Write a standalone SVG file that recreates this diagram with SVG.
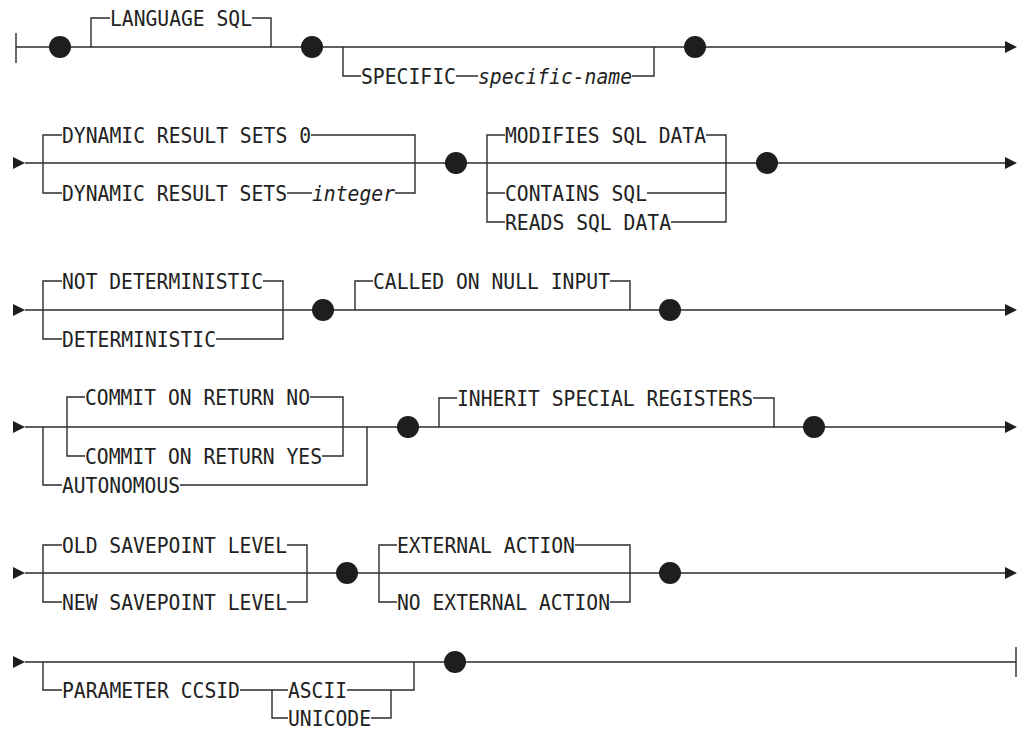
<svg xmlns="http://www.w3.org/2000/svg" width="1019" height="729" viewBox="0 0 1019 729">
<style>
.ln{stroke:#2b2b2b;stroke-width:1.4;fill:none}
.t{font-family:"DejaVu Sans Mono","Liberation Mono",monospace;font-size:22px;fill:#222}
.i{font-style:italic}
.dot{fill:#1e1e1e}
.arr{fill:#1e1e1e}
</style>
<rect width="1019" height="729" fill="#fff"/>
<g id="connectors">
<!-- row 1 -->
<path class="ln" d="M16 33V63M16 47H1006"/>
<polygon class="arr" points="1005,41 1017,47 1005,53"/>
<path class="ln" d="M91 47V18H110M252 18H271V47"/>
<path class="ln" d="M343 47V76H361M456 76H478M632 76H654V47"/>
<!-- row 2 -->
<polygon class="arr" points="13,157 25,163 13,169"/>
<path class="ln" d="M25 163H1006"/>
<polygon class="arr" points="1005,157 1017,163 1005,169"/>
<path class="ln" d="M62 135H43V193H62M311 135H415V193H395M287 193H312"/>
<path class="ln" d="M505 135H487V222H505M487 193H505M706 135H726V222H671M647 193H726"/>
<!-- row 3 -->
<polygon class="arr" points="13,304 25,310 13,316"/>
<path class="ln" d="M25 310H1006"/>
<polygon class="arr" points="1005,304 1017,310 1005,316"/>
<path class="ln" d="M62 281H43V339H62M263 281H283V339H216"/>
<path class="ln" d="M355 310V281H373M610 281H630V310"/>
<!-- row 4 -->
<polygon class="arr" points="13,421 25,427 13,433"/>
<path class="ln" d="M25 427H1006"/>
<polygon class="arr" points="1005,421 1017,427 1005,433"/>
<path class="ln" d="M43 427V485H62M180 485H367V427"/>
<path class="ln" d="M85 397H67V456H85M310 397H343V456H322"/>
<path class="ln" d="M439 427V398H457M753 398H774V427"/>
<!-- row 5 -->
<polygon class="arr" points="13,567 25,573 13,579"/>
<path class="ln" d="M25 573H1006"/>
<polygon class="arr" points="1005,567 1017,573 1005,579"/>
<path class="ln" d="M62 545H43V602H62M287 545H307V602H287"/>
<path class="ln" d="M397 545H379V602H397M575 545H630V602H610"/>
<!-- row 6 -->
<polygon class="arr" points="13,656 25,662 13,668"/>
<path class="ln" d="M25 662H1016M1016 647V677"/>
<path class="ln" d="M43 662V690H62M240 690H288M272 690V718H288M347 690H414V662M371 718H391V690"/>
</g>
<g id="dots">
<circle class="dot" cx="60" cy="47" r="11"/>
<circle class="dot" cx="312" cy="47" r="11"/>
<circle class="dot" cx="695" cy="47" r="11"/>
<circle class="dot" cx="456" cy="163" r="11"/>
<circle class="dot" cx="767" cy="163" r="11"/>
<circle class="dot" cx="323" cy="310" r="11"/>
<circle class="dot" cx="670" cy="310" r="11"/>
<circle class="dot" cx="408" cy="427" r="11"/>
<circle class="dot" cx="814" cy="427" r="11"/>
<circle class="dot" cx="347" cy="573" r="11"/>
<circle class="dot" cx="670" cy="573" r="11"/>
<circle class="dot" cx="455" cy="662" r="11"/>
</g>
<g id="n-language-sql"><text class="t" x="110" y="26" textLength="142" lengthAdjust="spacingAndGlyphs">LANGUAGE SQL</text></g>
<g id="n-specific"><text class="t" x="361" y="84" textLength="95" lengthAdjust="spacingAndGlyphs">SPECIFIC</text></g>
<g id="n-specific-name"><text class="t i" x="478" y="84" textLength="154" lengthAdjust="spacingAndGlyphs">specific-name</text></g>
<g id="n-drs0"><text class="t" x="62" y="143" textLength="249" lengthAdjust="spacingAndGlyphs">DYNAMIC RESULT SETS 0</text></g>
<g id="n-drs"><text class="t" x="62" y="201" textLength="225" lengthAdjust="spacingAndGlyphs">DYNAMIC RESULT SETS</text></g>
<g id="n-integer"><text class="t i" x="312" y="201" textLength="83" lengthAdjust="spacingAndGlyphs">integer</text></g>
<g id="n-modifies"><text class="t" x="505" y="143" textLength="201" lengthAdjust="spacingAndGlyphs">MODIFIES SQL DATA</text></g>
<g id="n-contains"><text class="t" x="505" y="201" textLength="142" lengthAdjust="spacingAndGlyphs">CONTAINS SQL</text></g>
<g id="n-reads"><text class="t" x="505" y="230" textLength="166" lengthAdjust="spacingAndGlyphs">READS SQL DATA</text></g>
<g id="n-not-det"><text class="t" x="62" y="289" textLength="201" lengthAdjust="spacingAndGlyphs">NOT DETERMINISTIC</text></g>
<g id="n-det"><text class="t" x="62" y="347" textLength="154" lengthAdjust="spacingAndGlyphs">DETERMINISTIC</text></g>
<g id="n-called"><text class="t" x="373" y="289" textLength="237" lengthAdjust="spacingAndGlyphs">CALLED ON NULL INPUT</text></g>
<g id="n-commit-no"><text class="t" x="85" y="405" textLength="225" lengthAdjust="spacingAndGlyphs">COMMIT ON RETURN NO</text></g>
<g id="n-commit-yes"><text class="t" x="85" y="464" textLength="237" lengthAdjust="spacingAndGlyphs">COMMIT ON RETURN YES</text></g>
<g id="n-autonomous"><text class="t" x="62" y="493" textLength="118" lengthAdjust="spacingAndGlyphs">AUTONOMOUS</text></g>
<g id="n-inherit"><text class="t" x="457" y="406" textLength="296" lengthAdjust="spacingAndGlyphs">INHERIT SPECIAL REGISTERS</text></g>
<g id="n-old-sp"><text class="t" x="62" y="553" textLength="225" lengthAdjust="spacingAndGlyphs">OLD SAVEPOINT LEVEL</text></g>
<g id="n-new-sp"><text class="t" x="62" y="610" textLength="225" lengthAdjust="spacingAndGlyphs">NEW SAVEPOINT LEVEL</text></g>
<g id="n-ext"><text class="t" x="397" y="553" textLength="178" lengthAdjust="spacingAndGlyphs">EXTERNAL ACTION</text></g>
<g id="n-no-ext"><text class="t" x="397" y="610" textLength="213" lengthAdjust="spacingAndGlyphs">NO EXTERNAL ACTION</text></g>
<g id="n-param"><text class="t" x="62" y="698" textLength="178" lengthAdjust="spacingAndGlyphs">PARAMETER CCSID</text></g>
<g id="n-ascii"><text class="t" x="288" y="698" textLength="59" lengthAdjust="spacingAndGlyphs">ASCII</text></g>
<g id="n-unicode"><text class="t" x="288" y="726" textLength="83" lengthAdjust="spacingAndGlyphs">UNICODE</text></g>
</svg>
